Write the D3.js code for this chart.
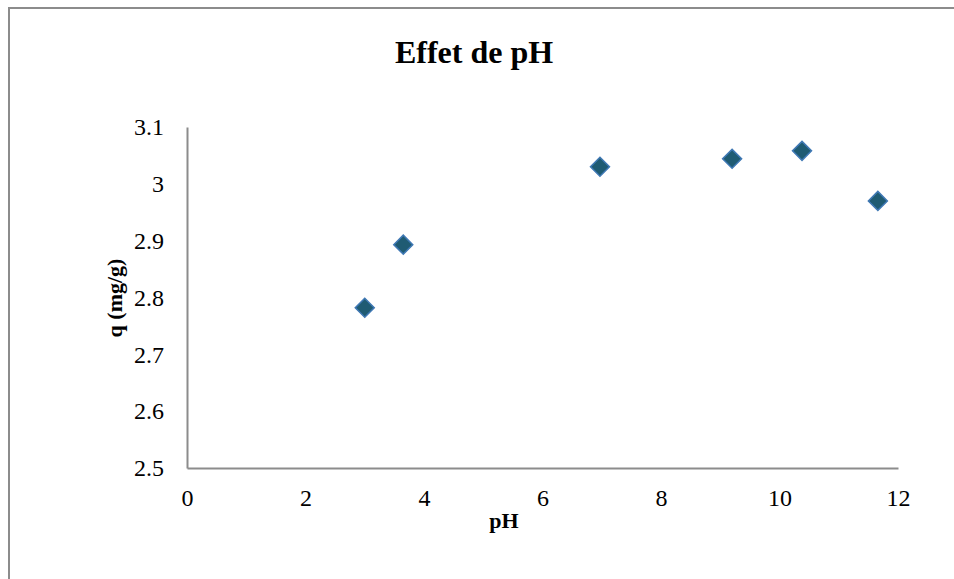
<!DOCTYPE html>
<html>
<head>
<meta charset="utf-8">
<script src="https://cdn.jsdelivr.net/npm/d3@7"></script>
<style>
  html, body { margin: 0; padding: 0; background: #fff; }
  svg { display: block; }
  text { font-family: "Liberation Serif", "Times New Roman", serif; fill: #000; }
</style>
</head>
<body>
<div id="chart"></div>
<script>
// Data
const phValues = [3.0, 3.65, 6.97, 9.2, 10.38, 11.66];
const qValues = [2.782, 2.893, 3.03, 3.044, 3.058, 2.97];
const xTicks = [0, 2, 4, 6, 8, 10, 12];
const yTicks = [2.5, 2.6, 2.7, 2.8, 2.9, 3, 3.1];

const width = 954, height = 579;
const margin = { left: 187, right: 56, top: 127, bottom: 111 };
const serif = '"Liberation Serif", "Times New Roman", serif';

const svg = d3.select('#chart').append('svg')
  .attr('width', width)
  .attr('height', height);

// outer frame (right/bottom edges fall outside the picture)
svg.append('rect')
  .attr('x', 9).attr('y', 8)
  .attr('width', 960).attr('height', 600)
  .attr('fill', 'none')
  .attr('stroke', '#8c8c8c')
  .attr('stroke-width', 2);

const x = d3.scaleLinear().domain([0, 12]).range([margin.left, width - margin.right]);
const y = d3.scaleLinear().domain([2.5, 3.1]).range([height - margin.bottom, margin.top]);

// axes
const xAxis = svg.append('g')
  .attr('transform', `translate(0,${y(2.5)})`)
  .call(d3.axisBottom(x).tickValues(xTicks).tickSize(0).tickPadding(21).tickFormat(d3.format('d')));
const yAxis = svg.append('g')
  .attr('transform', `translate(${x(0)},0)`)
  .call(d3.axisLeft(y).tickValues(yTicks).tickSize(0).tickPadding(23).tickFormat(d => d === 3 ? '3' : d3.format('.1f')(d)));

[xAxis, yAxis].forEach(g => {
  g.attr('font-size', 24).attr('font-family', serif);
  g.select('.domain').attr('stroke', '#8c8c8c').attr('stroke-width', 2);
  g.selectAll('text')
    .style('font-family', serif)
    .style('font-size', '24px')
    .attr('fill', '#000');
});

// title
svg.append('text')
  .attr('x', 474).attr('y', 63)
  .attr('text-anchor', 'middle')
  .style('font-size', '32px')
  .style('font-weight', 'bold')
  .text('Effet de pH');

// axis labels
svg.append('text')
  .attr('x', 504).attr('y', 528)
  .attr('text-anchor', 'middle')
  .style('font-size', '22px')
  .style('font-weight', 'bold')
  .text('pH');

svg.append('text')
  .attr('transform', 'translate(122,298) rotate(-90)')
  .attr('text-anchor', 'middle')
  .style('font-size', '22px')
  .style('font-weight', 'bold')
  .text('q (mg/g)');

// markers
const diamond = d3.symbol().type(d3.symbolSquare).size(180);
svg.append('g')
  .selectAll('path')
  .data(phValues.map((p, i) => ({ p, q: qValues[i] })))
  .enter().append('path')
  .attr('d', diamond)
  .attr('transform', d => `translate(${x(d.p)},${y(d.q)}) rotate(45)`)
  .attr('fill', '#1f5b73')
  .attr('stroke', '#3f78b4')
  .attr('stroke-width', 1.5);
</script>
</body>
</html>
